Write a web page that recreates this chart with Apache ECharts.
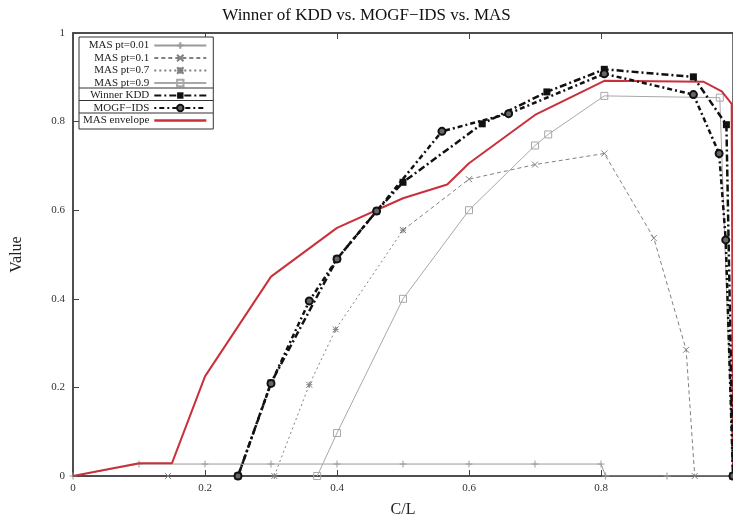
<!DOCTYPE html>
<html>
<head>
<meta charset="utf-8">
<script src="https://cdn.jsdelivr.net/npm/echarts@6/dist/echarts.min.js"></script>
<style>
  html, body { margin: 0; padding: 0; background: #fff; }
  #chart { width: 733px; height: 523px; }
</style>
</head>
<body>
<div id="chart"></div>
<script>
// values (x = C/L, y = Value)
const pt001X = [0, 0.1, 0.2, 0.3, 0.4, 0.5, 0.6, 0.7, 0.8, 0.807, 0.9, 1.0];
const pt001Y = [0, 0.027, 0.027, 0.027, 0.027, 0.027, 0.027, 0.027, 0.027, 0, 0, 0];

const pt01X = [0.144, null, 0.5, 0.6, 0.7, 0.805, 0.88, 0.929, 0.942];
const pt01Y = [0, null, 0.555, 0.67, 0.703, 0.728, 0.537, 0.285, 0];

const pt07X = [0.305, 0.358, 0.398, 0.5];
const pt07Y = [0, 0.206, 0.331, 0.555];

const pt09X = [0.37, 0.4, 0.5, 0.6, 0.7, 0.72, 0.805, 0.98, 1.0];
const pt09Y = [0, 0.097, 0.4, 0.6, 0.746, 0.771, 0.858, 0.854, 0];

const kddX = [0.25, 0.3, 0.4, 0.46, 0.5, 0.62, 0.718, 0.805, 0.94, 0.99, 1.0];
const kddY = [0, 0.21, 0.49, 0.598, 0.663, 0.795, 0.867, 0.918, 0.901, 0.793, 0];

const mogfX = [0.25, 0.3, 0.358, 0.4, 0.46, 0.559, 0.66, 0.805, 0.94, 0.979, 0.989, 1.0];
const mogfY = [0, 0.209, 0.395, 0.49, 0.598, 0.778, 0.818, 0.908, 0.861, 0.728, 0.533, 0];

const envX = [0, 0.1, 0.15, 0.2, 0.3, 0.4, 0.5, 0.567, 0.6, 0.7, 0.805, 0.955, 0.983, 0.998, 1.0];
const envY = [0, 0.029, 0.029, 0.225, 0.45, 0.56, 0.627, 0.658, 0.706, 0.815, 0.892, 0.89, 0.868, 0.84, 0];

const pairs = (xs, ys) => xs.map((x, i) => x === null ? '-' : [x, ys[i]]);

const serif = 'Liberation Serif';
const plus = 'path://M5,0L5,10M0,5L10,5';
const cross = 'path://M0,0L10,10M10,0L0,10';
const star = 'path://M0,0L10,10M10,0L0,10M5,0L5,10M0,5L10,5';

const chart = echarts.init(document.getElementById('chart'));

const graySeries = (name, xs, ys, color, type, symbol, size) => ({
    name: name,
    type: 'line',
    data: pairs(xs, ys),
    symbol: symbol,
    symbolSize: size,
    showAllSymbol: true,
    lineStyle: {color: color, width: 1, type: type},
    itemStyle: {color: 'rgba(0,0,0,0)', borderColor: color, borderWidth: 1},
    z: 2
});

// separators inside the legend box (gnuplot style)
const sepLine = (y) => ({
    type: 'line',
    shape: {x1: 79, y1: y, x2: 213, y2: y},
    style: {stroke: '#333', lineWidth: 1},
    z: 100
});

chart.setOption({
    animation: false,
    title: {
        text: 'Winner of KDD vs. MOGF\u2212IDS vs. MAS',
        left: 'center',
        top: 2,
        textStyle: {fontFamily: serif, fontSize: 17, fontWeight: 'normal', color: '#111'}
    },
    grid: {left: 73, top: 33, right: 0, bottom: 43, show: true, borderColor: '#444', borderWidth: 1.5},
    legend: {
        orient: 'vertical',
        left: 79,
        top: 37,
        align: 'right',
        itemWidth: 52,
        itemHeight: 8,
        itemGap: 1.5,
        padding: [3, 6, 3, 4],
        borderColor: '#333',
        borderWidth: 1,
        backgroundColor: '#fff',
        textStyle: {fontFamily: serif, fontSize: 11, color: '#222', width: 82, align: 'right'},
        data: [
            'MAS pt=0.01', 'MAS pt=0.1', 'MAS pt=0.7', 'MAS pt=0.9',
            'Winner KDD', 'MOGF\u2212IDS',
            {name: 'MAS envelope', icon: 'path://M0,4L40,4L40,6L0,6Z'}
        ]
    },
    graphic: [sepLine(88), sepLine(100.5), sepLine(113)],
    xAxis: [{
        type: 'value',
        min: 0, max: 1, interval: 0.2,
        name: 'C/L',
        nameLocation: 'middle',
        nameGap: 26,
        nameTextStyle: {fontFamily: serif, fontSize: 16, color: '#222'},
        axisLine: {lineStyle: {color: '#444', width: 1.5}},
        axisTick: {inside: true, length: 6, lineStyle: {color: '#444'}},
        axisLabel: {fontFamily: serif, fontSize: 11, color: '#333', margin: 7, showMaxLabel: false},
        splitLine: {show: false}
    }, {
        type: 'value',
        position: 'top',
        min: 0, max: 1, interval: 0.2,
        axisLine: {lineStyle: {color: '#444', width: 1.5}},
        axisTick: {inside: true, length: 6, lineStyle: {color: '#444'}},
        axisLabel: {show: false},
        splitLine: {show: false}
    }],
    yAxis: {
        type: 'value',
        min: 0, max: 1, interval: 0.2,
        name: 'Value',
        nameLocation: 'middle',
        nameGap: 48,
        nameTextStyle: {fontFamily: serif, fontSize: 16, color: '#222'},
        axisLine: {lineStyle: {color: '#444', width: 1.5}},
        axisTick: {inside: true, length: 6, lineStyle: {color: '#444'}},
        axisLabel: {fontFamily: serif, fontSize: 11, color: '#333', margin: 8},
        splitLine: {show: false}
    },
    series: [
        graySeries('MAS pt=0.01', pt001X, pt001Y, '#9a9a9a', 'solid', plus, 7),
        graySeries('MAS pt=0.1', pt01X, pt01Y, '#808080', [4, 3], cross, 6),
        graySeries('MAS pt=0.7', pt07X, pt07Y, '#808080', [2, 3], star, 6),
        graySeries('MAS pt=0.9', pt09X, pt09Y, '#a8a8a8', 'solid', 'rect', 7),
        {
            name: 'Winner KDD',
            type: 'line',
            data: pairs(kddX, kddY),
            symbol: 'rect',
            symbolSize: 7,
            showAllSymbol: true,
            lineStyle: {color: '#111', width: 2.5, type: [7, 3, 2, 3]},
            itemStyle: {color: '#111'},
            z: 4
        },
        {
            name: 'MOGF\u2212IDS',
            type: 'line',
            data: pairs(mogfX, mogfY),
            symbol: 'circle',
            symbolSize: 7,
            showAllSymbol: true,
            lineStyle: {color: '#111', width: 2.5, type: [2, 3, 5, 3]},
            itemStyle: {color: '#666', borderColor: '#111', borderWidth: 2},
            z: 5
        },
        {
            name: 'MAS envelope',
            type: 'line',
            data: pairs(envX, envY),
            symbol: 'none',
            lineStyle: {color: '#c9303a', width: 2},
            itemStyle: {color: '#c9303a'},
            z: 3
        }
    ]
});
</script>
</body>
</html>
